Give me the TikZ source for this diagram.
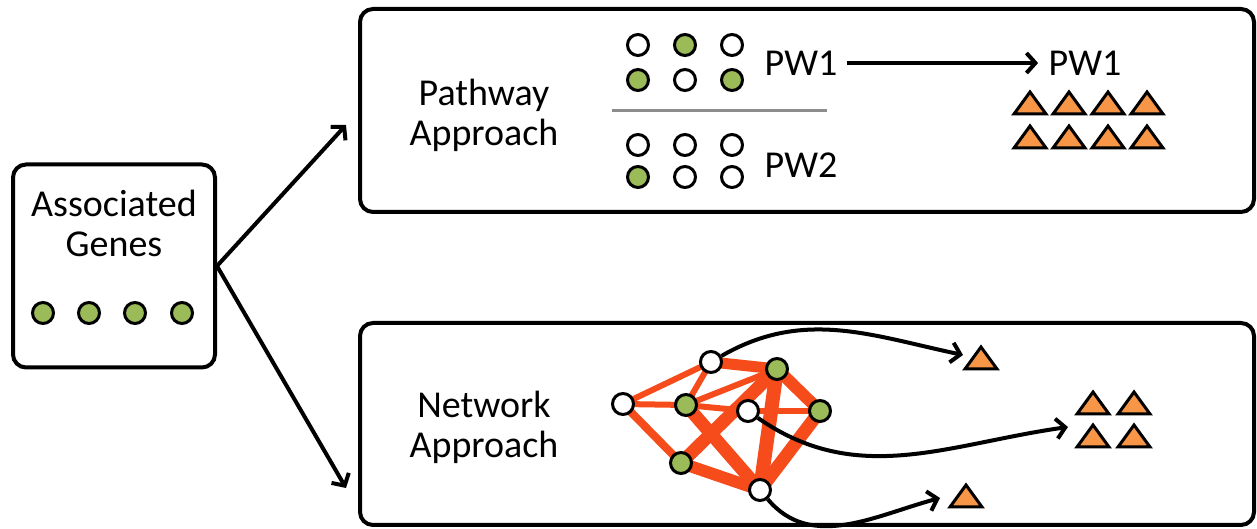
\documentclass[tikz,border=0pt]{standalone}
\usepackage{fontspec}
\setmainfont{Carlito}
\usetikzlibrary{arrows.meta,positioning,backgrounds}
\definecolor{leaf}{HTML}{9BBB59}
\definecolor{peach}{HTML}{F79646}
\definecolor{flame}{HTML}{F64B1A}
\definecolor{rulegray}{HTML}{8C8C8C}
\tikzset{
  panel/.style={draw,line width=4pt,rounded corners=13pt},
  gene/.style={circle,draw,line width=3pt,minimum size=21pt,inner sep=0pt,fill=white},
  hit/.style={gene,fill=leaf},
  lbl/.style={font=\fontsize{38}{40}\selectfont,align=center},
  link/.style={->,line width=4pt},
  tri/.pic={\draw[fill=peach,line width=3pt] (-16,-11) -- (16,-11) -- (0,11) -- cycle;}
}

\begin{document}
\begin{tikzpicture}[x=1pt,y=1pt,>={Straight Barb[length=9pt,width=20pt]}]
 \useasboundingbox (0,0) rectangle (1257,529);
 % frames
 \node[panel,minimum width=202pt,minimum height=203pt] (genes) at (114,263) {};
 \node[panel,minimum width=894pt,minimum height=203pt] (pwbox) at (807,418.5) {};
 \node[panel,minimum width=894pt,minimum height=202pt] (netbox) at (807,105) {};
 % associated genes
 \node[lbl] (gtxt) at (114,306) {Associated\\Genes};
 \foreach \x [count=\i] in {43,89,135,182}
  \node[hit] (g\i) at (\x,216) {};
 \coordinate (topin) at (346,404);
 \coordinate (botin) at (346,41);
 \draw[link] (genes.east) -- (topin);
 \draw[link] (genes.east) -- (botin);
 % pathway approach
 \node[lbl] (pwtxt) at (484,414) {Pathway\\Approach};
 \foreach \x/\y/\c [count=\i] in {638/484/white,685/484/leaf,732/484/white,638/449/leaf,685/449/white,732/449/leaf,
   638/384/white,685/384/white,732/384/white,638/352/leaf,685/352/white,732/352/white}
  \node[gene,fill=\c] (p\i) at (\x,\y) {};
 \draw[rulegray,line width=3pt] (612,418) -- (827,418);
 \node[lbl] (pw1) at (801,466) {PW1};
 \node[lbl] (pw2) at (801,364) {PW2};
 \node[lbl] (pw1b) at (1085,466) {PW1};
 \draw[link,shorten <=6pt,shorten >=7pt] (pw1) -- (pw1b);
 \foreach \x in {1030,1069,1108,1147}
  \foreach \y in {426,392}
   \pic at (\x,\y) {tri};
 % network approach
 \node[lbl] (nwtxt) at (484,102) {Network\\Approach};
 \node[gene] (na) at (623,125) {};
 \node[gene] (nb) at (711,167) {};
 \node[hit] (nc) at (686,124) {};
 \node[hit] (nd) at (777,160) {};
 \node[gene] (ne) at (748,118) {};
 \node[hit] (nf) at (820,118) {};
 \node[hit] (ng) at (681,66) {};
 \node[gene] (nh) at (760,39) {};
 \begin{scope}[on background layer]
  \foreach \a/\b/\w in {na/nb/6,na/nc/6,na/ng/8,nb/nc/6,nb/nd/11,nc/nd/6,nc/ne/6,ne/nf/6,
    nc/nh/13,ng/nd/13,ng/nh/12,nd/nh/14,nd/nf/12,nf/nh/13}
   \draw[flame,line width=\w pt] (\a.center) -- (\b.center);
 \end{scope}
 \coordinate (h1) at (963,174);
 \coordinate (h2) at (1068,102);
 \coordinate (h3) at (940,31);
 \draw[link] (nb) to[out=30,in=168] (h1);
 \draw[link] (ne) to[out=-35,in=188] (h2);
 \draw[link] (nh) to[out=-50,in=195] (h3);
 \pic at (981,171) {tri};
 \foreach \x in {1093,1134}
  \foreach \y in {126,93}
   \pic at (\x,\y) {tri};
 \pic at (966,33) {tri};
\end{tikzpicture}
\end{document}
